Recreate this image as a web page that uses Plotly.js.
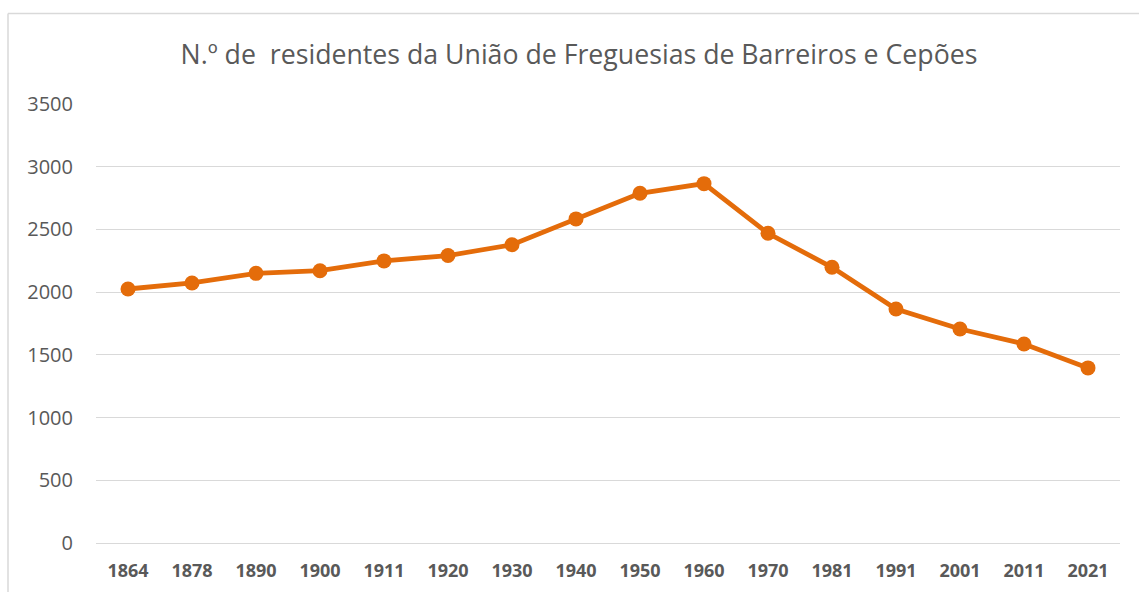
<!DOCTYPE html>
<html>
<head>
<meta charset="utf-8">
<script src="https://cdn.plot.ly/plotly-3.0.1.min.js"></script>
<style>
html,body{margin:0;padding:0;background:#fff;}
#chart{width:1139px;height:592px;}
</style>
</head>
<body>
<div id="chart"></div>
<script>
const years = ["1864","1878","1890","1900","1911","1920","1930","1940","1950","1960","1970","1981","1991","2001","2011","2021"];
const residents = [2025, 2073, 2150, 2171, 2249, 2292, 2378, 2584, 2788, 2865, 2469, 2198, 1866, 1706, 1587, 1396];
const titleText = "N.º de  residentes da União de Freguesias de Barreiros e Cepões";

const trace = {
  x: years,
  y: residents,
  type: "scatter",
  mode: "lines+markers",
  line: {color: "#E46C0A", width: 4.8},
  marker: {color: "#E46C0A", size: 15},
  hoverinfo: "x+y",
  showlegend: false
};

const layout = {
  width: 1139,
  height: 592,
  margin: {l: 96, r: 19, t: 104, b: 49},
  paper_bgcolor: "#ffffff",
  plot_bgcolor: "#ffffff",
  font: {family: "Open Sans, sans-serif", color: "#595959"},
  title: {
    text: titleText,
    font: {family: "Open Sans, sans-serif", size: 26.7, color: "#595959"},
    x: 579/1139, xanchor: "center",
    y: 1 - 55/592, yanchor: "middle"
  },
  xaxis: {
    type: "category",
    range: [-0.5, 15.5],
    showgrid: false,
    zeroline: false,
    showline: true,
    linecolor: "#d9d9d9",
    linewidth: 1,
    ticks: "",
    ticklabelstandoff: 11,
    tickfont: {family: "Open Sans, sans-serif", size: 18, color: "#595959", weight: "bold"},
    fixedrange: true
  },
  yaxis: {
    range: [0, 3500],
    tickvals: [0, 500, 1000, 1500, 2000, 2500, 3000, 3500],
    showgrid: true,
    gridcolor: "#d9d9d9",
    gridwidth: 1,
    zeroline: false,
    showline: false,
    ticks: "",
    ticklabelstandoff: 22,
    tickfont: {family: "Open Sans, sans-serif", size: 20, color: "#595959"},
    fixedrange: true
  },
  shapes: [
    {type: "line", xref: "paper", yref: "paper",
     x0: (8-96)/1024, x1: (8-96)/1024, y0: (543-13.5)/439, y1: -49/439 - 0.01,
     line: {color: "#d9d9d9", width: 1.5}},
    {type: "line", xref: "paper", yref: "paper",
     x0: (8-96)/1024, x1: (1139-96)/1024 + 0.01, y0: (543-13.5)/439, y1: (543-13.5)/439,
     line: {color: "#d9d9d9", width: 1.5}}
  ]
};

Plotly.newPlot("chart", [trace], layout, {displayModeBar: false, staticPlot: true});
</script>
</body>
</html>
